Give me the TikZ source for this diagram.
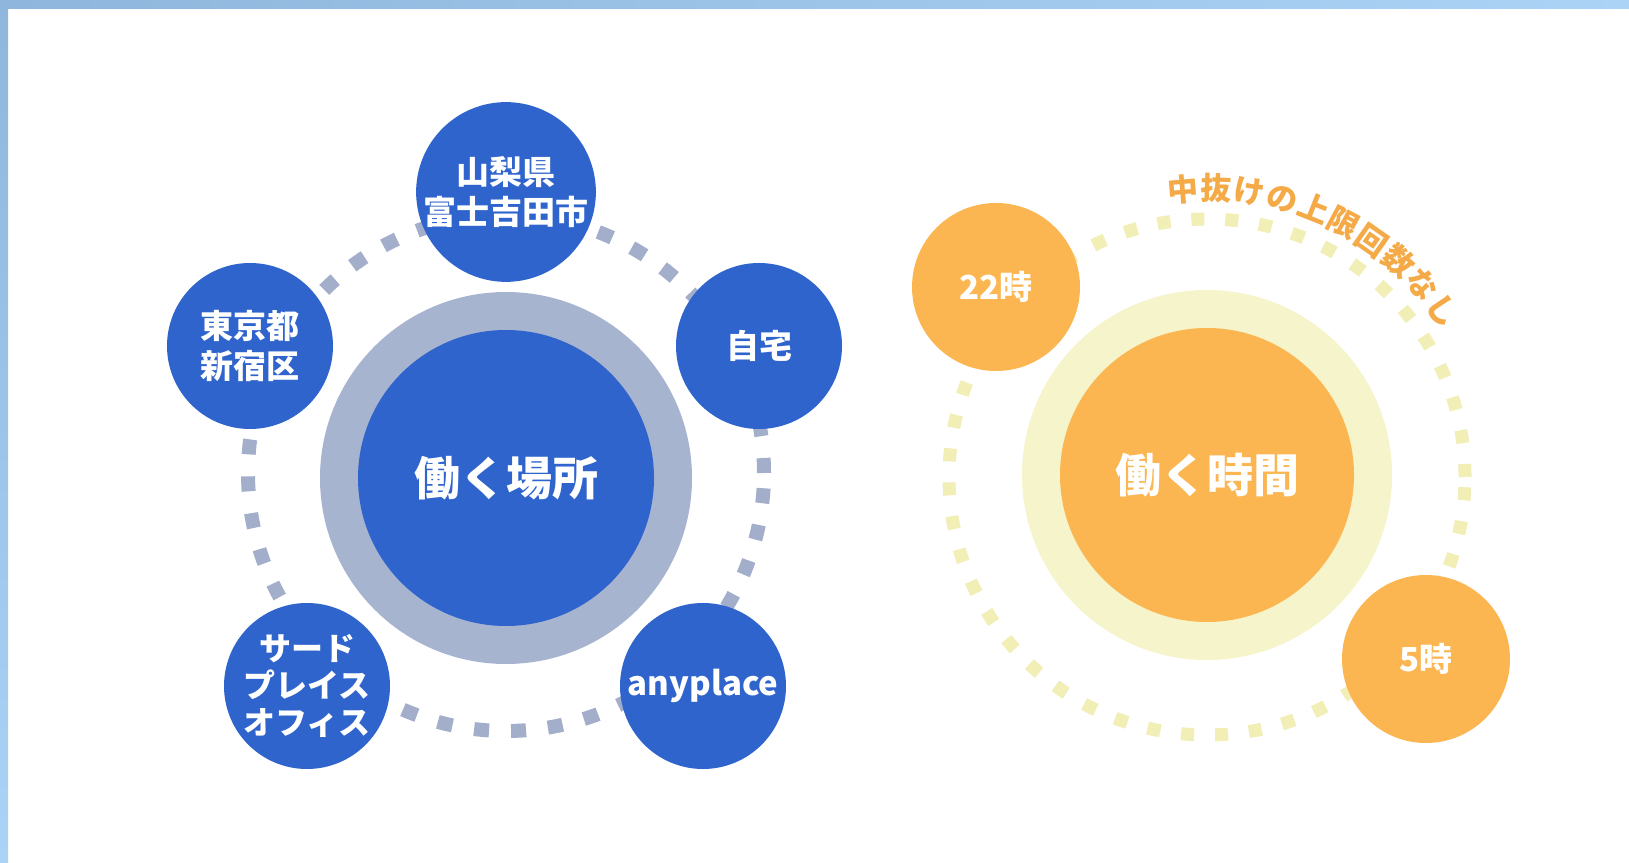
\documentclass[tikz,border=0pt]{standalone}
\usepackage{fontspec}
\setmainfont{Noto Sans CJK JP}
\usetikzlibrary{decorations.text}
\definecolor{bandA}{RGB}{143,182,220}
\definecolor{bandB}{RGB}{170,211,246}
\definecolor{placeblue}{RGB}{47,100,204}
\definecolor{ringgray}{RGB}{167,180,208}
\definecolor{dashgray}{RGB}{163,175,202}
\definecolor{timeorange}{RGB}{251,182,82}
\definecolor{paleyellow}{RGB}{246,244,202}
\definecolor{dotyellow}{RGB}{241,238,182}
\definecolor{captionorange}{RGB}{245,170,72}
\tikzset{
  bubble/.style={circle, inner sep=0pt, minimum size=166pt, text=white, align=center,
    font=\bfseries\fontsize{33}{40}\selectfont},
  placebubble/.style={bubble, fill=placeblue},
  timebubble/.style={bubble, fill=timeorange},
  hub/.style={circle, inner sep=0pt, text=white, font=\bfseries\fontsize{46}{50}\selectfont},
  halo/.style={circle, inner sep=0pt, minimum size=372pt},
  ringdash/.style={line width=14pt, dash pattern=on 15pt off 22pt},
  ringdot/.style={line width=13pt, dash pattern=on 13pt off 21pt},
}
\begin{document}
\begin{tikzpicture}[x=1pt,y=1pt]
\useasboundingbox (0,0) rectangle (1629,862);
\fill[white] (0,0) rectangle (1629,862);
\shade[left color=bandA, right color=bandB] (0,853) rectangle (1629,862);
\shade[top color=bandA, bottom color=bandB] (0,0) rectangle (8,862);

% ---------------- place group
\coordinate (pc) at (506,384);
\coordinate (pdash) at (506,389);
\draw[dashgray, ringdash] (pdash) circle[radius=258];
\node[halo, fill=ringgray] (placering) at (pc) {};
\node[hub, fill=placeblue, minimum size=296pt] (place) at (pc) {働く場所};
\node[placebubble] (yamanashi) at (506,670) {山梨県\\富士吉田市};
\node[placebubble] (tokyo) at (250,516) {東京都\\新宿区};
\node[placebubble] (home) at (759,516) {自宅};
\node[placebubble, font=\bfseries\fontsize{32}{37}\selectfont] (third) at (307,176) {サード\\プレイス\\オフィス};
\node[placebubble] (anyplace) at (703,176) {anyplace};

% ---------------- time group
\coordinate (tc) at (1207,387);
\coordinate (tdash) at (1207,385);
\draw[dotyellow, ringdot] (tdash) circle[radius=258];
\node[halo, fill=paleyellow, minimum size=370pt] (timering) at (tc) {};
\node[hub, fill=timeorange, minimum size=294pt] (time) at (tc) {働く時間};
\node[timebubble, minimum size=168pt] (late) at (996,575) {22時};
\node[timebubble, minimum size=168pt] (early) at (1426,203) {5時};
\path[decorate, decoration={text along path, text align=fit to path,
  text={|\bfseries\fontsize{31}{31}\selectfont\color{captionorange}|中抜けの上限回数なし}}]
  (tdash) ++(98:277) arc[start angle=98, end angle=32, radius=277];
\end{tikzpicture}
\end{document}
